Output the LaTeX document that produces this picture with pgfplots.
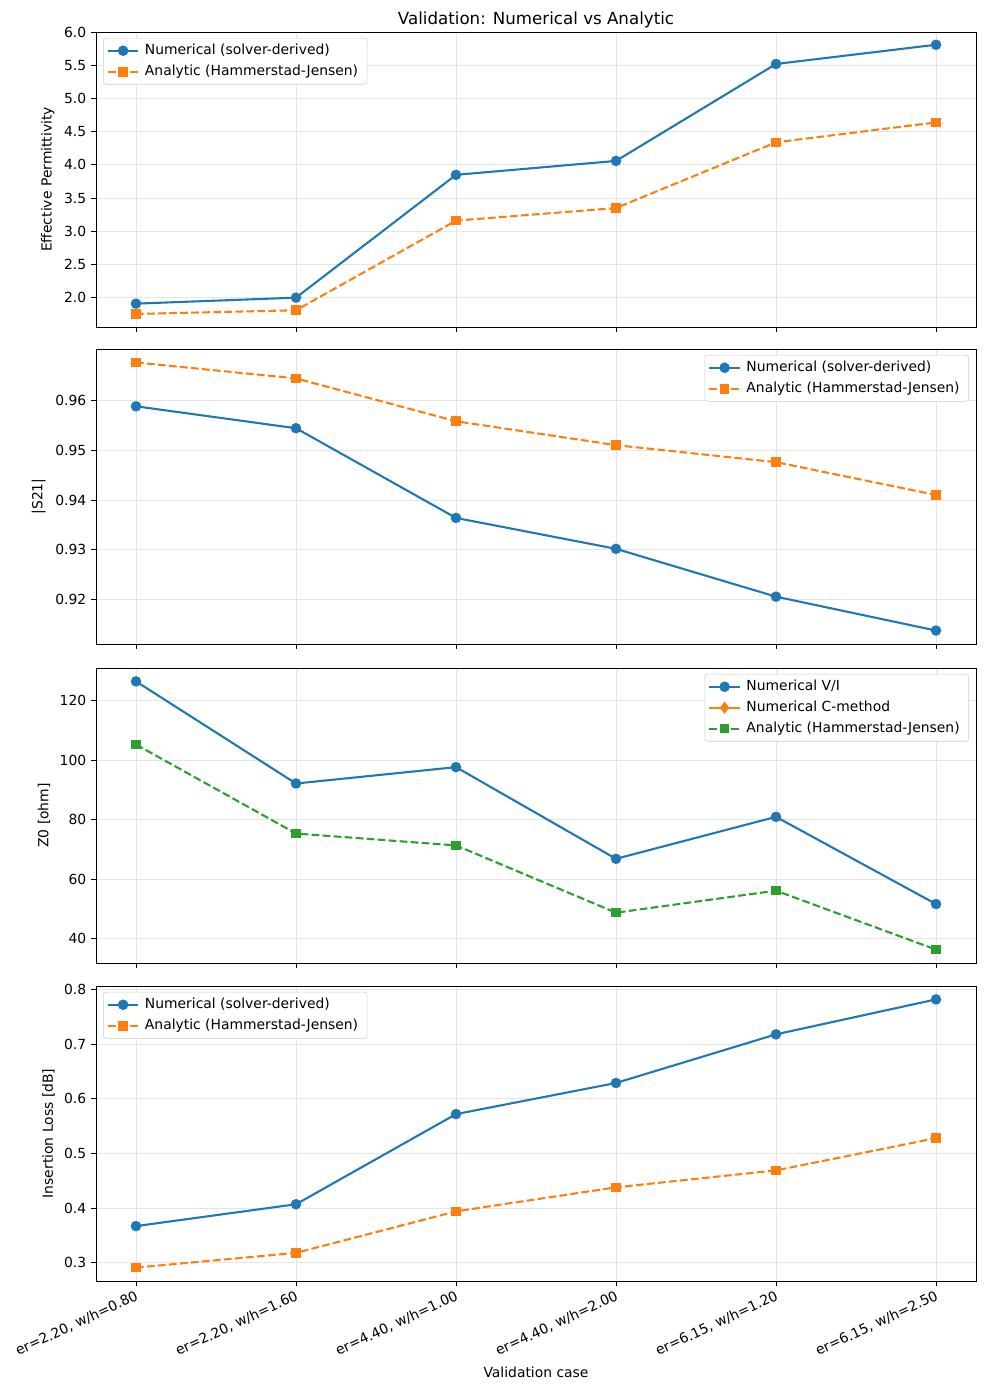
\documentclass[border=0pt]{standalone}
\usepackage{fontspec}
\setmainfont{DejaVu Sans}
\usepackage{pgfplots}
\pgfplotsset{compat=1.18}

\definecolor{C0}{HTML}{1F77B4}
\definecolor{C1}{HTML}{FF7F0E}
\definecolor{C2}{HTML}{2CA02C}

\pgfplotsset{
  panel/.style={
    width=633.6pt, height=212.4pt, scale only axis,
    xmin=-0.25, xmax=5.25,
    xtick={0,1,2,3,4,5},
    grid=major,
    grid style={line width=0.6pt, color=black!10},
    tick align=outside, xtick pos=bottom, ytick pos=left,
    major tick length=3.5pt,
    tick style={black, line width=0.6pt},
    axis line style={line width=0.6pt},
    /pgf/number format/assume math mode=true,
    tick label style={font=\fontsize{10}{12}\selectfont},
    label style={font=\fontsize{10}{12}\selectfont},
    legend style={font=\fontsize{10}{12}\selectfont, draw=black!20,
      rounded corners=2pt, inner sep=2.5pt, row sep=2pt,
      nodes={inner xsep=4pt}},
    legend cell align=left,
    legend image code/.code={%
      \draw[mark repeat=2,mark phase=2] plot coordinates {(0pt,0pt) (11pt,0pt) (22pt,0pt)};},
  },
  ul/.style={legend style={at={(0.008,0.98)}, anchor=north west}},
  ur/.style={legend style={at={(0.992,0.98)}, anchor=north east}},
  num/.style={color=C0, solid, line width=1.5pt, mark=*, mark size=3pt},
  ana/.style={color=#1, line width=1.5pt, dash pattern=on 5.55pt off 2.4pt,
    mark=square*, mark size=2.7pt, mark options={solid}},
  ana/.default=C1,
}

\begin{document}
\begin{tikzpicture}
\useasboundingbox (-69.12pt,23.04pt) rectangle (640.08pt,-977.04pt);

% Effective permittivity
\begin{axis}[panel, ul, at={(0pt,0pt)}, anchor=north west,
  ymin=1.558, ymax=6.002,
  ytick={2.0,2.5,...,6.0},
  yticklabel style={/pgf/number format/.cd, fixed, fixed zerofill, precision=1},
  xticklabels={},
  ylabel={Effective Permittivity},
  title={Validation: Numerical vs Analytic},
  title style={font=\fontsize{12}{14}\selectfont, yshift=-6.5pt}]
\addplot[num] coordinates {(0,1.91) (1,2.00) (2,3.85) (3,4.06) (4,5.52) (5,5.81)};
\addlegendentry{Numerical (solver-derived)}
\addplot[ana] coordinates {(0,1.755) (1,1.81) (2,3.16) (3,3.35) (4,4.34) (5,4.64)};
\addlegendentry{Analytic (Hammerstad-Jensen)}
\end{axis}

% |S21|
\begin{axis}[panel, ur, at={(0pt,-228.24pt)}, anchor=north west,
  ymin=0.9111, ymax=0.9703,
  ytick={0.92,0.93,0.94,0.95,0.96},
  yticklabel style={/pgf/number format/.cd, fixed, fixed zerofill, precision=2},
  xticklabels={},
  ylabel={|S21|}]
\addplot[num] coordinates {(0,0.9588) (1,0.9544) (2,0.9364) (3,0.9302) (4,0.9206) (5,0.9138)};
\addlegendentry{Numerical (solver-derived)}
\addplot[ana] coordinates {(0,0.9676) (1,0.9644) (2,0.9558) (3,0.9510) (4,0.9476) (5,0.9410)};
\addlegendentry{Analytic (Hammerstad-Jensen)}
\end{axis}

% Characteristic impedance
\begin{axis}[panel, ur, at={(0pt,-457.92pt)}, anchor=north west,
  ymin=31.8, ymax=130.9,
  ytick={40,60,80,100,120},
  xticklabels={},
  ylabel={Z0 [ohm]}]
\addplot[num] coordinates {(0,126.4) (1,92.1) (2,97.6) (3,66.8) (4,80.9) (5,51.6)};
\addlegendentry{Numerical V/I}
\addlegendimage{color=C1, solid, line width=1.5pt, mark=diamond*, mark size=3.2pt}
\addlegendentry{Numerical C-method}
\addplot[ana=C2] coordinates {(0,105.2) (1,75.3) (2,71.3) (3,48.7) (4,56.1) (5,36.3)};
\addlegendentry{Analytic (Hammerstad-Jensen)}
\end{axis}

% Insertion loss
\begin{axis}[panel, ul, at={(0pt,-686.88pt)}, anchor=north west,
  ymin=0.2665, ymax=0.8065,
  ytick={0.3,0.4,0.5,0.6,0.7,0.8},
  yticklabel style={/pgf/number format/.cd, fixed, fixed zerofill, precision=1},
  xticklabels={{er=2.20, w/h=0.80},{er=2.20, w/h=1.60},{er=4.40, w/h=1.00},
               {er=4.40, w/h=2.00},{er=6.15, w/h=1.20},{er=6.15, w/h=2.50}},
  xticklabel style={rotate=25, anchor=north east, inner sep=2pt},
  ylabel={Insertion Loss [dB]},
  xlabel={Validation case},
  xlabel style={yshift=-1pt}]
\addplot[num] coordinates {(0,0.367) (1,0.407) (2,0.572) (3,0.629) (4,0.718) (5,0.782)};
\addlegendentry{Numerical (solver-derived)}
\addplot[ana] coordinates {(0,0.291) (1,0.318) (2,0.394) (3,0.438) (4,0.469) (5,0.528)};
\addlegendentry{Analytic (Hammerstad-Jensen)}
\end{axis}
\end{tikzpicture}
\end{document}
